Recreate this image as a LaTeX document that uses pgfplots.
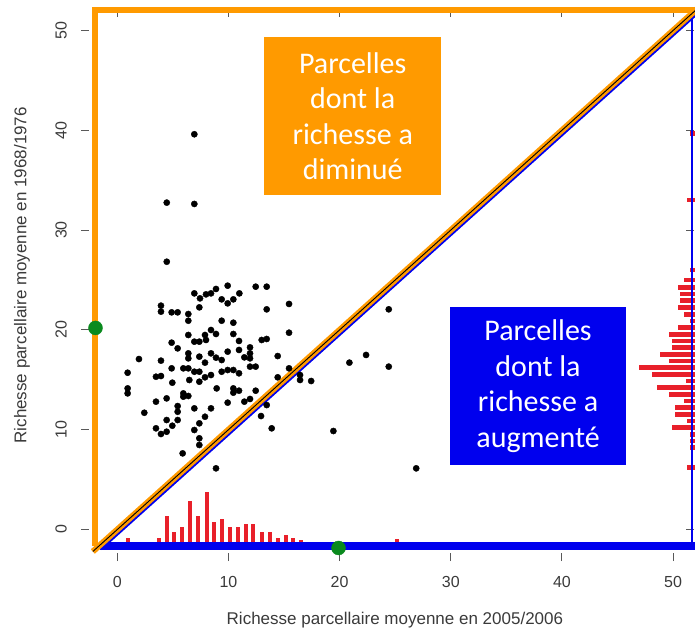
\documentclass[border=0pt]{standalone}
\usepackage{fontspec}
\setmainfont{Liberation Sans}
\newfontfamily\boxfont{Carlito}
\usepackage{pgfplots}
\usepackage{pgfplotstable}
\pgfplotsset{compat=1.18}
\definecolor{orng}{HTML}{FF9A00}
\definecolor{blu}{HTML}{0000EE}
\definecolor{hred}{HTML}{E8202A}
\definecolor{grn}{HTML}{0A8A1E}
\definecolor{txt}{HTML}{3A3A3A}

\pgfplotstableread{
x y
4.45 26.83
4.45 32.75
6.93 32.62
6.93 39.60
6.93 23.66
7.44 23.16
7.98 23.56
8.43 23.66
8.88 24.10
9.39 23.06
9.93 24.43
9.93 22.66
10.44 23.06
10.98 23.66
12.45 24.33
13.44 24.33
3.93 22.43
3.93 21.83
4.89 21.76
5.43 21.76
6.39 21.59
6.39 20.92
7.38 22.26
9.39 20.92
10.44 20.72
13.44 22.06
15.45 22.60
4.89 18.72
5.43 18.15
6.39 19.49
6.93 18.82
7.38 18.82
7.89 19.49
8.43 19.99
8.88 19.59
7.98 18.99
10.44 19.59
10.95 18.89
11.94 18.25
11.94 17.65
12.99 18.99
13.44 19.09
15.45 19.72
1.95 17.08
3.93 16.92
6.39 17.65
6.39 17.15
7.38 17.32
7.89 16.72
8.43 17.65
8.88 17.22
9.39 16.98
9.93 17.82
10.95 17.99
11.43 17.25
11.94 17.15
14.43 17.38
0.93 15.71
3.48 15.31
3.93 15.38
4.89 16.15
5.94 16.15
6.39 16.15
6.93 15.81
7.38 15.81
7.38 14.81
7.89 15.25
8.43 15.48
9.39 15.81
9.93 15.98
10.44 15.98
10.95 15.65
11.94 16.32
12.45 16.32
15.45 16.15
16.44 15.48
16.44 14.98
17.44 14.88
14.43 15.25
0.93 14.14
0.93 13.64
4.95 14.71
6.48 14.98
8.94 14.14
10.44 14.14
10.44 13.71
10.95 13.91
12.45 13.91
3.48 12.81
4.44 13.14
5.43 12.37
5.43 11.80
5.94 13.64
5.94 13.31
6.39 13.38
6.93 12.14
8.43 12.14
9.93 12.71
11.43 12.81
11.94 13.08
13.44 12.47
12.93 11.37
2.43 11.70
3.48 10.14
3.93 9.57
4.44 9.80
4.95 10.40
4.44 10.97
5.43 10.97
6.93 9.97
7.38 10.64
7.89 11.30
7.38 9.14
7.38 8.47
5.88 7.63
13.89 10.14
19.44 9.87
8.88 6.13
26.89 6.13
20.88 16.72
22.38 17.49
24.42 16.32
24.42 22.06
}\scatterdata

% histogram of x values: x, base, height
\pgfplotstableread{
x b e
0.94 -2.0 1.18
3.75 -2.0 1.18
4.45 -2.0 3.35
5.13 -2.0 1.75
5.85 -2.0 2.22
6.54 -2.0 4.89
7.29 -2.0 3.35
8.05 -2.0 5.72
8.73 -2.0 2.78
9.45 -2.0 3.05
10.14 -2.0 2.22
10.84 -2.0 2.22
11.56 -2.0 2.55
12.24 -2.0 2.55
13.00 -2.0 1.75
13.74 -2.0 1.75
14.44 -2.0 1.18
15.16 -2.0 1.45
15.84 -2.0 1.18
16.53 -2.0 0.95
18.00 -2.0 0.70
21.40 -2.0 0.70
22.97 -2.0 0.70
25.20 -2.0 1.10
27.30 -2.0 0.70
36.60 -2.0 0.65
}\histx

% histogram of y values: base x, y, length (leftwards)
\pgfplotstableread{
b y e
52.0 39.70 0.51
52.0 33.02 0.75
52.0 26.00 0.51
52.0 25.00 1.05
52.0 24.27 1.60
52.0 23.60 1.35
52.0 22.93 1.35
52.0 22.26 1.60
52.0 21.56 1.05
52.0 20.89 0.51
52.0 20.22 1.60
52.0 19.56 2.34
52.0 18.89 2.10
52.0 18.22 2.10
52.0 17.56 3.15
52.0 16.88 2.34
52.0 16.21 5.10
52.0 15.55 3.90
52.0 14.88 0.80
52.0 14.21 3.45
52.0 13.55 2.34
52.0 12.88 1.05
52.0 12.21 1.80
52.0 11.54 1.80
52.0 10.87 0.75
52.0 10.20 2.10
52.0 9.54 0.51
52.0 8.87 0.51
52.0 8.20 0.51
52.0 6.19 0.75
}\histy

\begin{document}
\begin{tikzpicture}
\begin{axis}[name=ax,
  scale only axis, width=596.5pt, height=536pt,
  xmin=-1.96, xmax=51.7, ymin=-1.65, ymax=52.05,
  axis line style={draw=none},
  clip=false,
  xtick={0,10,20,30,40,50}, ytick={0,10,20,30,40,50},
  tick align=outside, major tick length=8pt,
  xtick style={draw=gray!70!black, line width=1pt, yshift=-7pt},
  ytick style={draw=gray!70!black, line width=1pt, xshift=-6pt},
  tick label style={font=\fontsize{16}{16}\selectfont, text=txt},
  /pgf/number format/assume math mode=true,
  xticklabel style={anchor=north, inner ysep=22pt},
  yticklabel style={rotate=90, anchor=south, inner ysep=20.5pt},
  xlabel={Richesse parcellaire moyenne en 2005/2006},
  ylabel={Richesse parcellaire moyenne en 1968/1976},
  xlabel style={at={(axis description cs:0.502,-0.138)}, anchor=center, font=\fontsize{17}{17}\selectfont, text=txt},
  ylabel style={at={(axis description cs:-0.1232,0.505)}, anchor=center, font=\fontsize{17}{17}\selectfont, text=txt},
]
% scatter points
\addplot[only marks, mark=*, mark size=3.1pt, black] table[x=x, y=y] {\scatterdata};

% histogram of x values (bottom)
\addplot[draw=none, mark=none, forget plot,
  error bars/.cd, y dir=plus, y explicit, error mark=none,
  error bar style={draw=hred, line width=4pt}]
  table[x=x, y=b, y error=e] {\histx};

% histogram of y values (right)
\addplot[draw=none, mark=none, forget plot,
  error bars/.cd, x dir=minus, x explicit, error mark=none,
  error bar style={draw=hred, line width=4.5pt}]
  table[x=b, y=y, x error=e] {\histy};

% frame
\draw[orng, line width=6pt] (rel axis cs:0,0) -- (rel axis cs:0,1) -- (rel axis cs:1.01,1);
\draw[blu, line width=8pt] (rel axis cs:0.008,0) -- (rel axis cs:1.01,0);
\draw[blu, line width=1.5pt] (rel axis cs:1,0) -- (rel axis cs:1,1);

% diagonals
\addplot[blu, line width=3pt, forget plot] coordinates {(-1.5,-1.95) (52.4,51.95)};
\addplot[orng, line width=6pt, forget plot] coordinates {(-2.2,-2.2) (52.2,52.2)};
\addplot[black, line width=0.9pt, forget plot] coordinates {(-2.2,-2.2) (52.2,52.2)};

% green points
\addplot[only marks, mark=*, mark size=7pt, grn, forget plot] coordinates {(-1.96,20.2) (19.9,-1.85)};

% text boxes
\node[fill=orng, text=white, minimum width=176.7pt, minimum height=157.7pt, inner sep=0pt,
  align=center, font=\boxfont\fontsize{30}{35.6}\selectfont]
  at (axis cs:21.18,41.42) {Parcelles\\dont la\\richesse a\\diminué};
\node[fill=blu, text=white, minimum width=175.7pt, minimum height=157.7pt, inner sep=0pt,
  align=center, font=\boxfont\fontsize{30}{35.6}\selectfont]
  at (axis cs:37.85,14.36) {Parcelles\\dont la\\richesse a\\augmenté};
\end{axis}
\pgfresetboundingbox
\path[use as bounding box] (ax.south west) ++(-95.5pt,-88pt) rectangle ++(695pt,634pt);
\end{tikzpicture}
\end{document}
